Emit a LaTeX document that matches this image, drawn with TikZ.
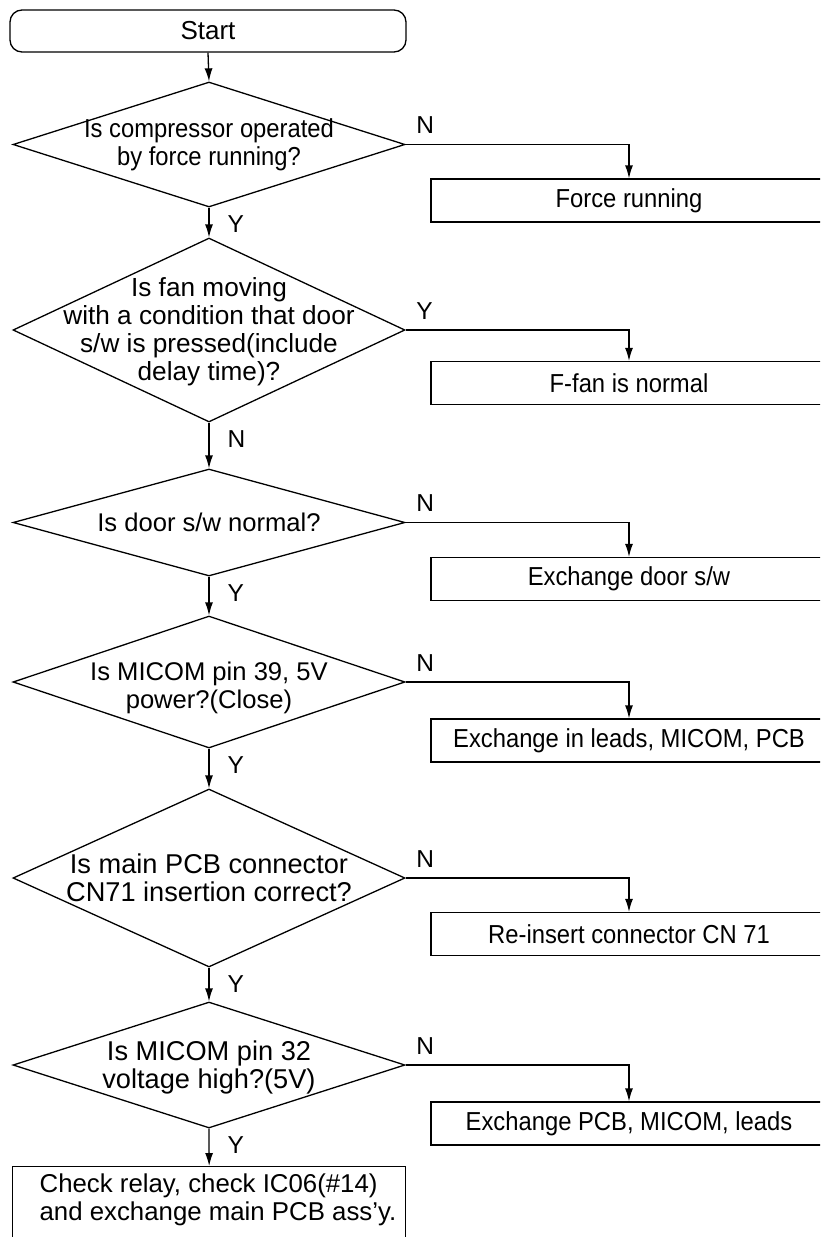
\documentclass[tikz,border=0pt]{standalone}
\usepackage{fontspec}
\setmainfont{Liberation Sans}
\newfontfamily\mynarrow[FakeStretch=0.915]{Liberation Sans}
\usetikzlibrary{shapes.geometric,arrows.meta}
\newcommand\mytightlines{\lineskiplimit=-100pt\relax\lineskip=0pt\relax}
\newcommand\fnR{\mynarrow\fontsize{26}{28}\selectfont\mytightlines}
\newcommand\fnD[1]{\fontsize{#1}{28}\selectfont\mytightlines}
\begin{document}
\begin{tikzpicture}[x=1pt,y=-1pt,line width=1.3pt,
  arr/.style={-{Latex[length=13pt,width=8pt]}},
  dec/.style={draw,diamond,minimum width=392pt,inner sep=0pt},
  txt/.style={align=center,inner sep=0pt},
  res/.style={draw,rectangle,minimum width=396pt,minimum height=43pt,inner sep=0pt,font=\fnR},
  lbl/.style={font=\fnD{24.5},inner sep=0pt}]
\useasboundingbox (0,0) rectangle (820,1237);
\clip (0,0) rectangle (820,1237);

% start
\node[draw,rounded corners=12pt,minimum width=396pt,minimum height=42pt,inner sep=0pt,font=\fnD{26}] (start) at (208,31) {Start};

% decisions
\node[dec,minimum height=125pt] (d1) at (209,144.5) {};
\node[txt,font=\fnR] (t1) at (d1.center) {Is compressor operated\\by force running?};
\node[dec,minimum height=184pt] (d2) at (209,330) {};
\node[txt,font=\fnD{26.2}] (t2) at ([yshift=-2pt]d2.center) {Is fan moving\\with a condition that door\\s/w is pressed(include\\delay time)?};
\node[dec,minimum height=107pt] (d3) at (209,522.5) {};
\node[txt,font=\fnD{25.6}] (t3) at (d3.center) {Is door s/w normal?};
\node[dec,minimum height=132pt] (d4) at (209,682) {};
\node[txt,font=\fnD{25.6}] (t4) at ([yshift=-6pt]d4.center) {Is MICOM pin 39, 5V\\power?(Close)};
\node[dec,minimum height=178pt] (d5) at (209,878) {};
\node[txt,font=\fnD{27.2}] (t5) at (d5.center) {Is main PCB connector\\CN71 insertion correct?};
\node[dec,minimum height=126pt] (d6) at (209,1065) {};
\node[txt,font=\fnD{27.2}] (t6) at ([yshift=-2pt]d6.center) {Is MICOM pin 32\\voltage high?(5V)};

% final box
\node[draw,rectangle,minimum width=393pt,minimum height=100pt,inner sep=0pt,anchor=north west] (fin) at (12,1166) {};
\node[txt,font=\fnD{25.8},align=left,anchor=west] (tf) at (39,1200) {Check relay, check IC06(\#14)\\and exchange main PCB ass’y.};

% result boxes
\node[res] (b1) at (629,200.5) {Force running};
\node[res] (b2) at (629,383) {F-fan is normal};
\node[res] (b3) at (629,579) {Exchange door s/w};
\node[res] (b4) at (629,740.5) {Exchange in leads, MICOM, PCB};
\node[res] (b5) at (629,934) {Re-insert connector CN 71};
\node[res] (b6) at (629,1123.5) {Exchange PCB, MICOM, leads};

% vertical connectors
\draw[arr] (start.south) -- (d1.north);
\draw[arr] (d1.south) -- (d2.north);
\draw[arr] (d2.south) -- (d3.north);
\draw[arr] (d3.south) -- (d4.north);
\draw[arr] (d4.south) -- (d5.north);
\draw[arr] (d5.south) -- (d6.north);
\draw[arr] (d6.south) -- (fin.north);

% branch connectors
\draw[arr] (d1.east) -| (b1.north);
\draw[arr] (d2.east) -| (b2.north);
\draw[arr] (d3.east) -| (b3.north);
\draw[arr] (d4.east) -| (b4.north);
\draw[arr] (d5.east) -| (b5.north);
\draw[arr] (d6.east) -| (b6.north);

% branch labels
\node[lbl,anchor=south west] (l1r) at ([xshift=10pt,yshift=10pt]d1.east) {N};
\node[lbl,anchor=south west] (l2r) at ([xshift=10pt,yshift=10pt]d2.east) {Y};
\node[lbl,anchor=south west] (l3r) at ([xshift=10pt,yshift=10pt]d3.east) {N};
\node[lbl,anchor=south west] (l4r) at ([xshift=10pt,yshift=10pt]d4.east) {N};
\node[lbl,anchor=south west] (l5r) at ([xshift=10pt,yshift=10pt]d5.east) {N};
\node[lbl,anchor=south west] (l6r) at ([xshift=10pt,yshift=10pt]d6.east) {N};
\node[lbl,anchor=north west] (l1b) at ([xshift=18pt,yshift=-7pt]d1.south) {Y};
\node[lbl,anchor=north west] (l2b) at ([xshift=18pt,yshift=-7pt]d2.south) {N};
\node[lbl,anchor=north west] (l3b) at ([xshift=18pt,yshift=-7pt]d3.south) {Y};
\node[lbl,anchor=north west] (l4b) at ([xshift=18pt,yshift=-7pt]d4.south) {Y};
\node[lbl,anchor=north west] (l5b) at ([xshift=18pt,yshift=-7pt]d5.south) {Y};
\node[lbl,anchor=north west] (l6b) at ([xshift=18pt,yshift=-7pt]d6.south) {Y};
\end{tikzpicture}
\end{document}
